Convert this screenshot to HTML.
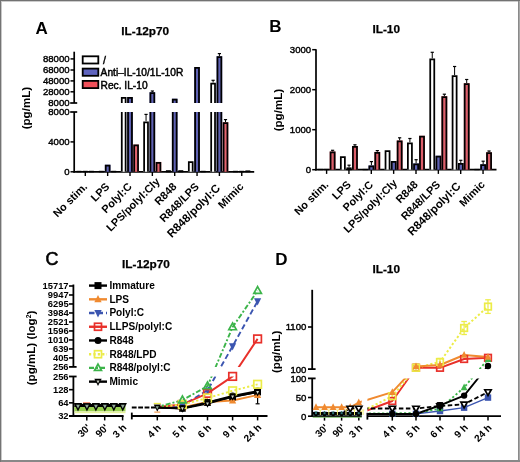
<!DOCTYPE html>
<html><head><meta charset="utf-8"><style>
html,body{margin:0;padding:0;background:#fff;}
body{width:520px;height:462px;overflow:hidden;}
svg{display:block;font-family:"Liberation Sans", sans-serif;filter:blur(0.3px);}
</style></head><body>
<svg width="520" height="462" viewBox="0 0 520 462">
<rect x="0" y="0" width="520" height="462" fill="#fff"/>
<line x1="74.2" y1="51.7" x2="74.2" y2="103.0" stroke="#000" stroke-width="1.7"/>
<line x1="70.2" y1="103.0" x2="77.2" y2="103.0" stroke="#000" stroke-width="1.7"/>
<line x1="74.2" y1="112.0" x2="74.2" y2="172.60000000000002" stroke="#000" stroke-width="1.7"/>
<line x1="70.2" y1="112.0" x2="77.2" y2="112.0" stroke="#000" stroke-width="1.7"/>
<line x1="70.5" y1="58.9" x2="74.2" y2="58.9" stroke="#000" stroke-width="1.5"/>
<text x="69.6" y="62.3" font-size="9.6" text-anchor="end" stroke="#000" stroke-width="0.4">88000</text>
<line x1="70.5" y1="70.0" x2="74.2" y2="70.0" stroke="#000" stroke-width="1.5"/>
<text x="69.6" y="73.4" font-size="9.6" text-anchor="end" stroke="#000" stroke-width="0.4">68000</text>
<line x1="70.5" y1="80.9" x2="74.2" y2="80.9" stroke="#000" stroke-width="1.5"/>
<text x="69.6" y="84.30000000000001" font-size="9.6" text-anchor="end" stroke="#000" stroke-width="0.4">48000</text>
<line x1="70.5" y1="91.8" x2="74.2" y2="91.8" stroke="#000" stroke-width="1.5"/>
<text x="69.6" y="95.2" font-size="9.6" text-anchor="end" stroke="#000" stroke-width="0.4">28000</text>
<text x="69.6" y="106.4" font-size="9.6" text-anchor="end" stroke="#000" stroke-width="0.4">8000</text>
<text x="69.6" y="115.4" font-size="9.6" text-anchor="end" stroke="#000" stroke-width="0.4">8000</text>
<line x1="70.5" y1="141.9" x2="74.2" y2="141.9" stroke="#000" stroke-width="1.5"/>
<text x="69.6" y="145.3" font-size="9.6" text-anchor="end" stroke="#000" stroke-width="0.4">4000</text>
<line x1="70.5" y1="171.8" x2="74.2" y2="171.8" stroke="#000" stroke-width="1.5"/>
<text x="69.6" y="175.20000000000002" font-size="9.6" text-anchor="end" stroke="#000" stroke-width="0.4">0</text>
<line x1="73.4" y1="171.8" x2="254.2" y2="171.8" stroke="#000" stroke-width="1.7"/>
<line x1="85.3" y1="171.8" x2="85.3" y2="176.0" stroke="#000" stroke-width="1.4"/>
<line x1="107.65" y1="171.8" x2="107.65" y2="176.0" stroke="#000" stroke-width="1.4"/>
<line x1="130.0" y1="171.8" x2="130.0" y2="176.0" stroke="#000" stroke-width="1.4"/>
<line x1="152.35000000000002" y1="171.8" x2="152.35000000000002" y2="176.0" stroke="#000" stroke-width="1.4"/>
<line x1="174.7" y1="171.8" x2="174.7" y2="176.0" stroke="#000" stroke-width="1.4"/>
<line x1="197.05" y1="171.8" x2="197.05" y2="176.0" stroke="#000" stroke-width="1.4"/>
<line x1="219.40000000000003" y1="171.8" x2="219.40000000000003" y2="176.0" stroke="#000" stroke-width="1.4"/>
<line x1="241.75" y1="171.8" x2="241.75" y2="176.0" stroke="#000" stroke-width="1.4"/>
<rect x="76.50" y="170.80" width="5.00" height="1.50" fill="#000"/>
<rect x="82.80" y="170.80" width="5.00" height="1.50" fill="#000"/>
<rect x="88.90" y="170.80" width="5.00" height="1.50" fill="#000"/>
<rect x="98.85" y="170.80" width="5.00" height="1.50" fill="#000"/>
<rect x="104.85" y="164.70" width="5.60" height="7.10" fill="#5f62b4"/>
<path d="M105.73,171.80 V165.57 H109.58 V171.80" fill="none" stroke="#000" stroke-width="1.75"/>
<rect x="111.25" y="170.80" width="5.00" height="1.50" fill="#000"/>
<rect x="120.90" y="112.00" width="5.60" height="59.80" fill="#fff"/>
<path d="M121.78,171.80 V112.00 M125.62,112.00 V171.80" fill="none" stroke="#000" stroke-width="1.75"/>
<rect x="120.90" y="97.00" width="5.60" height="6.00" fill="#fff"/>
<path d="M121.78,103.00 V97.88 H125.62 V103.00" fill="none" stroke="#000" stroke-width="1.75"/>
<rect x="127.20" y="112.00" width="5.60" height="59.80" fill="#5f62b4"/>
<path d="M128.07,171.80 V112.00 M131.93,112.00 V171.80" fill="none" stroke="#000" stroke-width="1.75"/>
<rect x="127.20" y="97.00" width="5.60" height="6.00" fill="#5f62b4"/>
<path d="M128.07,103.00 V97.88 H131.93 V103.00" fill="none" stroke="#000" stroke-width="1.75"/>
<rect x="133.30" y="144.60" width="5.60" height="27.20" fill="#e4646e"/>
<path d="M134.17,171.80 V145.47 H138.03 V171.80" fill="none" stroke="#000" stroke-width="1.75"/>
<line x1="146.05" y1="114.4" x2="146.05" y2="121.4" stroke="#000" stroke-width="1.0"/>
<line x1="144.45000000000002" y1="114.4" x2="147.65" y2="114.4" stroke="#000" stroke-width="1.2"/>
<rect x="143.25" y="121.40" width="5.60" height="50.40" fill="#fff"/>
<path d="M144.12,171.80 V122.28 H147.98 V171.80" fill="none" stroke="#000" stroke-width="1.75"/>
<line x1="152.35000000000002" y1="91.0" x2="152.35000000000002" y2="92.2" stroke="#000" stroke-width="1.0"/>
<line x1="150.75000000000003" y1="91.0" x2="153.95000000000002" y2="91.0" stroke="#000" stroke-width="1.2"/>
<rect x="149.55" y="112.00" width="5.60" height="59.80" fill="#5f62b4"/>
<path d="M150.43,171.80 V112.00 M154.28,112.00 V171.80" fill="none" stroke="#000" stroke-width="1.75"/>
<rect x="149.55" y="92.20" width="5.60" height="10.80" fill="#5f62b4"/>
<path d="M150.43,103.00 V93.08 H154.28 V103.00" fill="none" stroke="#000" stroke-width="1.75"/>
<rect x="155.65" y="161.90" width="5.60" height="9.90" fill="#e4646e"/>
<path d="M156.53,171.80 V162.78 H160.38 V171.80" fill="none" stroke="#000" stroke-width="1.75"/>
<rect x="165.90" y="170.20" width="5.00" height="2.10" fill="#000"/>
<rect x="171.90" y="112.00" width="5.60" height="59.80" fill="#5f62b4"/>
<path d="M172.77,171.80 V112.00 M176.62,112.00 V171.80" fill="none" stroke="#000" stroke-width="1.75"/>
<rect x="171.90" y="98.70" width="5.60" height="4.30" fill="#5f62b4"/>
<path d="M172.77,103.00 V99.58 H176.62 V103.00" fill="none" stroke="#000" stroke-width="1.75"/>
<rect x="178.30" y="170.20" width="5.00" height="2.10" fill="#000"/>
<rect x="187.95" y="161.30" width="5.60" height="10.50" fill="#fff"/>
<path d="M188.82,171.80 V162.18 H192.68 V171.80" fill="none" stroke="#000" stroke-width="1.75"/>
<rect x="194.25" y="112.00" width="5.60" height="59.80" fill="#5f62b4"/>
<path d="M195.12,171.80 V112.00 M198.98,112.00 V171.80" fill="none" stroke="#000" stroke-width="1.75"/>
<rect x="194.25" y="67.00" width="5.60" height="36.00" fill="#5f62b4"/>
<path d="M195.12,103.00 V67.88 H198.98 V103.00" fill="none" stroke="#000" stroke-width="1.75"/>
<rect x="200.65" y="170.80" width="5.00" height="1.50" fill="#000"/>
<line x1="213.10000000000002" y1="80.3" x2="213.10000000000002" y2="82.7" stroke="#000" stroke-width="1.0"/>
<line x1="211.50000000000003" y1="80.3" x2="214.70000000000002" y2="80.3" stroke="#000" stroke-width="1.2"/>
<rect x="210.30" y="112.00" width="5.60" height="59.80" fill="#fff"/>
<path d="M211.18,171.80 V112.00 M215.03,112.00 V171.80" fill="none" stroke="#000" stroke-width="1.75"/>
<rect x="210.30" y="82.70" width="5.60" height="20.30" fill="#fff"/>
<path d="M211.18,103.00 V83.58 H215.03 V103.00" fill="none" stroke="#000" stroke-width="1.75"/>
<line x1="219.40000000000003" y1="53.6" x2="219.40000000000003" y2="56.2" stroke="#000" stroke-width="1.0"/>
<line x1="217.80000000000004" y1="53.6" x2="221.00000000000003" y2="53.6" stroke="#000" stroke-width="1.2"/>
<rect x="216.60" y="112.00" width="5.60" height="59.80" fill="#5f62b4"/>
<path d="M217.48,171.80 V112.00 M221.33,112.00 V171.80" fill="none" stroke="#000" stroke-width="1.75"/>
<rect x="216.60" y="56.20" width="5.60" height="46.80" fill="#5f62b4"/>
<path d="M217.48,103.00 V57.08 H221.33 V103.00" fill="none" stroke="#000" stroke-width="1.75"/>
<line x1="225.50000000000003" y1="119.6" x2="225.50000000000003" y2="122.2" stroke="#000" stroke-width="1.0"/>
<line x1="223.90000000000003" y1="119.6" x2="227.10000000000002" y2="119.6" stroke="#000" stroke-width="1.2"/>
<rect x="222.70" y="122.20" width="5.60" height="49.60" fill="#e4646e"/>
<path d="M223.58,171.80 V123.08 H227.43 V171.80" fill="none" stroke="#000" stroke-width="1.75"/>
<rect x="232.95" y="170.80" width="5.00" height="1.50" fill="#000"/>
<rect x="239.25" y="170.80" width="5.00" height="1.50" fill="#000"/>
<rect x="245.35" y="170.40" width="5.00" height="1.90" fill="#000"/>
<rect x="82.7" y="56.3" width="15.6" height="7.2" fill="#fff" stroke="#000" stroke-width="1.8"/>
<text x="103.0" y="64.0" font-size="10.6" text-anchor="start" stroke="#000" stroke-width="0.45">/</text>
<rect x="82.7" y="68.60000000000001" width="15.6" height="7.2" fill="#5f64be" stroke="#000" stroke-width="1.8"/>
<text x="100.6" y="76.3" font-size="10.2" text-anchor="start" stroke="#000" stroke-width="0.45">Anti–IL-10/1L-10R</text>
<rect x="82.7" y="80.9" width="15.6" height="7.2" fill="#f0505a" stroke="#000" stroke-width="1.8"/>
<text x="100.6" y="88.6" font-size="10.2" text-anchor="start" stroke="#000" stroke-width="0.45">Rec. IL-10</text>
<text x="145.2" y="35.0" font-size="11.8" font-weight="bold" text-anchor="middle" stroke="#000" stroke-width="0.25">IL-12p70</text>
<text x="35.6" y="33.8" font-size="17" font-weight="bold" text-anchor="start">A</text>
<text x="29.8" y="108.1" font-size="11.6" font-weight="bold" text-anchor="middle" transform="rotate(-90 29.8 108.1)">(pg/mL)</text>
<text x="87.89999999999999" y="187.3" font-size="10.9" font-weight="bold" text-anchor="end" transform="rotate(-45 87.89999999999999 187.3)">No stim.</text>
<text x="110.25" y="187.3" font-size="10.9" font-weight="bold" text-anchor="end" transform="rotate(-45 110.25 187.3)">LPS</text>
<text x="132.6" y="187.3" font-size="10.9" font-weight="bold" text-anchor="end" transform="rotate(-45 132.6 187.3)">Polyl:C</text>
<text x="160.45000000000002" y="182.3" font-size="10.9" font-weight="bold" text-anchor="end" transform="rotate(-45 160.45000000000002 182.3)">LPS/polyl:Cly</text>
<text x="177.29999999999998" y="187.3" font-size="10.9" font-weight="bold" text-anchor="end" transform="rotate(-45 177.29999999999998 187.3)">R848</text>
<text x="199.65" y="187.3" font-size="10.9" font-weight="bold" text-anchor="end" transform="rotate(-45 199.65 187.3)">R848/LPS</text>
<text x="221.00000000000003" y="188.9" font-size="11.5" font-weight="bold" text-anchor="end" transform="rotate(-45 221.00000000000003 188.9)">R848/polyl:C</text>
<text x="244.35" y="187.3" font-size="10.9" font-weight="bold" text-anchor="end" transform="rotate(-45 244.35 187.3)">Mimic</text>
<line x1="316.0" y1="49.3" x2="316.0" y2="170.5" stroke="#000" stroke-width="1.7"/>
<line x1="312.2" y1="49.69999999999999" x2="316.0" y2="49.69999999999999" stroke="#000" stroke-width="1.5"/>
<text x="311.2" y="53.09999999999999" font-size="9.6" text-anchor="end" stroke="#000" stroke-width="0.4">3000</text>
<line x1="312.2" y1="89.69999999999999" x2="316.0" y2="89.69999999999999" stroke="#000" stroke-width="1.5"/>
<text x="311.2" y="93.1" font-size="9.6" text-anchor="end" stroke="#000" stroke-width="0.4">2000</text>
<line x1="312.2" y1="129.7" x2="316.0" y2="129.7" stroke="#000" stroke-width="1.5"/>
<text x="311.2" y="133.1" font-size="9.6" text-anchor="end" stroke="#000" stroke-width="0.4">1000</text>
<line x1="312.2" y1="169.7" x2="316.0" y2="169.7" stroke="#000" stroke-width="1.5"/>
<text x="311.2" y="173.1" font-size="9.6" text-anchor="end" stroke="#000" stroke-width="0.4">0</text>
<line x1="315.2" y1="169.7" x2="496.5" y2="169.7" stroke="#000" stroke-width="1.7"/>
<line x1="326.6" y1="169.7" x2="326.6" y2="173.89999999999998" stroke="#000" stroke-width="1.4"/>
<line x1="348.95000000000005" y1="169.7" x2="348.95000000000005" y2="173.89999999999998" stroke="#000" stroke-width="1.4"/>
<line x1="371.3" y1="169.7" x2="371.3" y2="173.89999999999998" stroke="#000" stroke-width="1.4"/>
<line x1="393.65000000000003" y1="169.7" x2="393.65000000000003" y2="173.89999999999998" stroke="#000" stroke-width="1.4"/>
<line x1="416.0" y1="169.7" x2="416.0" y2="173.89999999999998" stroke="#000" stroke-width="1.4"/>
<line x1="438.35" y1="169.7" x2="438.35" y2="173.89999999999998" stroke="#000" stroke-width="1.4"/>
<line x1="460.70000000000005" y1="169.7" x2="460.70000000000005" y2="173.89999999999998" stroke="#000" stroke-width="1.4"/>
<line x1="483.05000000000007" y1="169.7" x2="483.05000000000007" y2="173.89999999999998" stroke="#000" stroke-width="1.4"/>
<rect x="317.90" y="168.90" width="5.20" height="1.30" fill="#000"/>
<rect x="324.10" y="168.90" width="5.20" height="1.30" fill="#000"/>
<line x1="332.6" y1="150.3" x2="332.6" y2="151.5" stroke="#000" stroke-width="1.0"/>
<line x1="331.0" y1="150.3" x2="334.20000000000005" y2="150.3" stroke="#000" stroke-width="1.2"/>
<rect x="329.70" y="151.50" width="5.80" height="18.20" fill="#dc5e6a"/>
<path d="M330.58,169.70 V152.38 H334.62 V169.70" fill="none" stroke="#000" stroke-width="1.75"/>
<rect x="339.95" y="156.20" width="5.80" height="13.50" fill="#fff"/>
<path d="M340.83,169.70 V157.07 H344.88 V169.70" fill="none" stroke="#000" stroke-width="1.75"/>
<line x1="349.05000000000007" y1="165.2" x2="349.05000000000007" y2="167.4" stroke="#000" stroke-width="1.0"/>
<line x1="347.45000000000005" y1="165.2" x2="350.6500000000001" y2="165.2" stroke="#000" stroke-width="1.2"/>
<rect x="346.45" y="167.40" width="5.20" height="2.80" fill="#000"/>
<line x1="354.95000000000005" y1="144.8" x2="354.95000000000005" y2="146.0" stroke="#000" stroke-width="1.0"/>
<line x1="353.35" y1="144.8" x2="356.55000000000007" y2="144.8" stroke="#000" stroke-width="1.2"/>
<rect x="352.05" y="146.00" width="5.80" height="23.70" fill="#dc5e6a"/>
<path d="M352.93,169.70 V146.88 H356.98 V169.70" fill="none" stroke="#000" stroke-width="1.75"/>
<rect x="362.60" y="168.90" width="5.20" height="1.30" fill="#000"/>
<line x1="371.40000000000003" y1="161.6" x2="371.40000000000003" y2="165.4" stroke="#000" stroke-width="1.0"/>
<line x1="369.8" y1="161.6" x2="373.00000000000006" y2="161.6" stroke="#000" stroke-width="1.2"/>
<rect x="368.50" y="165.40" width="5.80" height="4.30" fill="#5f62b4"/>
<path d="M369.38,169.70 V166.28 H373.43 V169.70" fill="none" stroke="#000" stroke-width="1.75"/>
<line x1="377.3" y1="150.6" x2="377.3" y2="151.9" stroke="#000" stroke-width="1.0"/>
<line x1="375.7" y1="150.6" x2="378.90000000000003" y2="150.6" stroke="#000" stroke-width="1.2"/>
<rect x="374.40" y="151.90" width="5.80" height="17.80" fill="#dc5e6a"/>
<path d="M375.28,169.70 V152.78 H379.32 V169.70" fill="none" stroke="#000" stroke-width="1.75"/>
<rect x="384.65" y="150.30" width="5.80" height="19.40" fill="#fff"/>
<path d="M385.53,169.70 V151.18 H389.57 V169.70" fill="none" stroke="#000" stroke-width="1.75"/>
<rect x="390.85" y="161.10" width="5.80" height="8.60" fill="#5f62b4"/>
<path d="M391.73,169.70 V161.97 H395.78 V169.70" fill="none" stroke="#000" stroke-width="1.75"/>
<line x1="399.65000000000003" y1="137.8" x2="399.65000000000003" y2="140.5" stroke="#000" stroke-width="1.0"/>
<line x1="398.05" y1="137.8" x2="401.25000000000006" y2="137.8" stroke="#000" stroke-width="1.2"/>
<rect x="396.75" y="140.50" width="5.80" height="29.20" fill="#dc5e6a"/>
<path d="M397.63,169.70 V141.38 H401.68 V169.70" fill="none" stroke="#000" stroke-width="1.75"/>
<line x1="409.9" y1="138.5" x2="409.9" y2="142.5" stroke="#000" stroke-width="1.0"/>
<line x1="408.29999999999995" y1="138.5" x2="411.5" y2="138.5" stroke="#000" stroke-width="1.2"/>
<rect x="407.00" y="142.50" width="5.80" height="27.20" fill="#fff"/>
<path d="M407.88,169.70 V143.38 H411.92 V169.70" fill="none" stroke="#000" stroke-width="1.75"/>
<line x1="416.1" y1="159.7" x2="416.1" y2="163.4" stroke="#000" stroke-width="1.0"/>
<line x1="414.5" y1="159.7" x2="417.70000000000005" y2="159.7" stroke="#000" stroke-width="1.2"/>
<rect x="413.20" y="163.40" width="5.80" height="6.30" fill="#5f62b4"/>
<path d="M414.08,169.70 V164.28 H418.12 V169.70" fill="none" stroke="#000" stroke-width="1.75"/>
<rect x="419.10" y="135.80" width="5.80" height="33.90" fill="#dc5e6a"/>
<path d="M419.98,169.70 V136.68 H424.02 V169.70" fill="none" stroke="#000" stroke-width="1.75"/>
<line x1="432.25" y1="52.3" x2="432.25" y2="58.6" stroke="#000" stroke-width="1.0"/>
<line x1="430.65" y1="52.3" x2="433.85" y2="52.3" stroke="#000" stroke-width="1.2"/>
<rect x="429.35" y="58.60" width="5.80" height="111.10" fill="#fff"/>
<path d="M430.23,169.70 V59.48 H434.27 V169.70" fill="none" stroke="#000" stroke-width="1.75"/>
<rect x="435.55" y="155.70" width="5.80" height="14.00" fill="#5f62b4"/>
<path d="M436.43,169.70 V156.57 H440.48 V169.70" fill="none" stroke="#000" stroke-width="1.75"/>
<line x1="444.35" y1="94.2" x2="444.35" y2="96.2" stroke="#000" stroke-width="1.0"/>
<line x1="442.75" y1="94.2" x2="445.95000000000005" y2="94.2" stroke="#000" stroke-width="1.2"/>
<rect x="441.45" y="96.20" width="5.80" height="73.50" fill="#dc5e6a"/>
<path d="M442.33,169.70 V97.08 H446.38 V169.70" fill="none" stroke="#000" stroke-width="1.75"/>
<line x1="454.6" y1="66.5" x2="454.6" y2="75.3" stroke="#000" stroke-width="1.0"/>
<line x1="453.0" y1="66.5" x2="456.20000000000005" y2="66.5" stroke="#000" stroke-width="1.2"/>
<rect x="451.70" y="75.30" width="5.80" height="94.40" fill="#fff"/>
<path d="M452.58,169.70 V76.17 H456.62 V169.70" fill="none" stroke="#000" stroke-width="1.75"/>
<line x1="460.80000000000007" y1="160.3" x2="460.80000000000007" y2="163.1" stroke="#000" stroke-width="1.0"/>
<line x1="459.20000000000005" y1="160.3" x2="462.4000000000001" y2="160.3" stroke="#000" stroke-width="1.2"/>
<rect x="457.90" y="163.10" width="5.80" height="6.60" fill="#5f62b4"/>
<path d="M458.78,169.70 V163.97 H462.83 V169.70" fill="none" stroke="#000" stroke-width="1.75"/>
<line x1="466.70000000000005" y1="79.5" x2="466.70000000000005" y2="83.2" stroke="#000" stroke-width="1.0"/>
<line x1="465.1" y1="79.5" x2="468.30000000000007" y2="79.5" stroke="#000" stroke-width="1.2"/>
<rect x="463.80" y="83.20" width="5.80" height="86.50" fill="#dc5e6a"/>
<path d="M464.68,169.70 V84.08 H468.73 V169.70" fill="none" stroke="#000" stroke-width="1.75"/>
<rect x="474.35" y="168.90" width="5.20" height="1.30" fill="#000"/>
<line x1="483.1500000000001" y1="161.2" x2="483.1500000000001" y2="164.3" stroke="#000" stroke-width="1.0"/>
<line x1="481.55000000000007" y1="161.2" x2="484.7500000000001" y2="161.2" stroke="#000" stroke-width="1.2"/>
<rect x="480.25" y="164.30" width="5.80" height="5.40" fill="#5f62b4"/>
<path d="M481.13,169.70 V165.18 H485.18 V169.70" fill="none" stroke="#000" stroke-width="1.75"/>
<line x1="489.05000000000007" y1="151.0" x2="489.05000000000007" y2="152.3" stroke="#000" stroke-width="1.0"/>
<line x1="487.45000000000005" y1="151.0" x2="490.6500000000001" y2="151.0" stroke="#000" stroke-width="1.2"/>
<rect x="486.15" y="152.30" width="5.80" height="17.40" fill="#dc5e6a"/>
<path d="M487.03,169.70 V153.18 H491.08 V169.70" fill="none" stroke="#000" stroke-width="1.75"/>
<text x="386.2" y="33.2" font-size="11.8" font-weight="bold" text-anchor="middle" stroke="#000" stroke-width="0.25">IL-10</text>
<text x="269.2" y="31.6" font-size="17" font-weight="bold" text-anchor="start">B</text>
<text x="282.0" y="110.1" font-size="11.6" font-weight="bold" text-anchor="middle" transform="rotate(-90 282.0 110.1)">(pg/mL)</text>
<text x="329.20000000000005" y="185.3" font-size="10.9" font-weight="bold" text-anchor="end" transform="rotate(-45 329.20000000000005 185.3)">No stim.</text>
<text x="351.55000000000007" y="185.3" font-size="10.9" font-weight="bold" text-anchor="end" transform="rotate(-45 351.55000000000007 185.3)">LPS</text>
<text x="373.90000000000003" y="185.3" font-size="10.9" font-weight="bold" text-anchor="end" transform="rotate(-45 373.90000000000003 185.3)">Polyl:C</text>
<text x="397.75000000000006" y="183.8" font-size="10.9" font-weight="bold" text-anchor="end" transform="rotate(-45 397.75000000000006 183.8)">LPS/polyl:Cly</text>
<text x="418.6" y="185.3" font-size="10.9" font-weight="bold" text-anchor="end" transform="rotate(-45 418.6 185.3)">R848</text>
<text x="440.95000000000005" y="185.3" font-size="10.9" font-weight="bold" text-anchor="end" transform="rotate(-45 440.95000000000005 185.3)">R848/LPS</text>
<text x="461.50000000000006" y="186.9" font-size="11.5" font-weight="bold" text-anchor="end" transform="rotate(-45 461.50000000000006 186.9)">R848/polyl:C</text>
<text x="485.6500000000001" y="185.3" font-size="10.9" font-weight="bold" text-anchor="end" transform="rotate(-45 485.6500000000001 185.3)">Mimic</text>
<line x1="73.4" y1="284.5" x2="73.4" y2="366.9" stroke="#000" stroke-width="1.8"/>
<line x1="69.0" y1="366.9" x2="76.6" y2="366.9" stroke="#000" stroke-width="1.8"/>
<line x1="73.4" y1="376.5" x2="73.4" y2="416.0" stroke="#000" stroke-width="1.8"/>
<line x1="69.0" y1="376.5" x2="76.6" y2="376.5" stroke="#000" stroke-width="1.8"/>
<line x1="69.0" y1="286.0" x2="73.4" y2="286.0" stroke="#000" stroke-width="1.6"/>
<text x="68.6" y="289.3" font-size="9.4" font-weight="bold" text-anchor="end">15717</text>
<line x1="69.0" y1="294.99" x2="73.4" y2="294.99" stroke="#000" stroke-width="1.6"/>
<text x="68.6" y="298.29" font-size="9.4" font-weight="bold" text-anchor="end">9947</text>
<line x1="69.0" y1="303.98" x2="73.4" y2="303.98" stroke="#000" stroke-width="1.6"/>
<text x="68.6" y="307.28000000000003" font-size="9.4" font-weight="bold" text-anchor="end">6295</text>
<line x1="69.0" y1="312.97" x2="73.4" y2="312.97" stroke="#000" stroke-width="1.6"/>
<text x="68.6" y="316.27000000000004" font-size="9.4" font-weight="bold" text-anchor="end">3984</text>
<line x1="69.0" y1="321.96" x2="73.4" y2="321.96" stroke="#000" stroke-width="1.6"/>
<text x="68.6" y="325.26" font-size="9.4" font-weight="bold" text-anchor="end">2521</text>
<line x1="69.0" y1="330.95" x2="73.4" y2="330.95" stroke="#000" stroke-width="1.6"/>
<text x="68.6" y="334.25" font-size="9.4" font-weight="bold" text-anchor="end">1596</text>
<line x1="69.0" y1="339.94" x2="73.4" y2="339.94" stroke="#000" stroke-width="1.6"/>
<text x="68.6" y="343.24" font-size="9.4" font-weight="bold" text-anchor="end">1010</text>
<line x1="69.0" y1="348.93" x2="73.4" y2="348.93" stroke="#000" stroke-width="1.6"/>
<text x="68.6" y="352.23" font-size="9.4" font-weight="bold" text-anchor="end">639</text>
<line x1="69.0" y1="357.92" x2="73.4" y2="357.92" stroke="#000" stroke-width="1.6"/>
<text x="68.6" y="361.22" font-size="9.4" font-weight="bold" text-anchor="end">405</text>
<text x="68.6" y="370.21" font-size="9.4" font-weight="bold" text-anchor="end">256</text>
<text x="68.6" y="379.8" font-size="9.4" font-weight="bold" text-anchor="end">256</text>
<line x1="69.0" y1="389.67" x2="73.4" y2="389.67" stroke="#000" stroke-width="1.6"/>
<text x="68.6" y="392.97" font-size="9.4" font-weight="bold" text-anchor="end">128</text>
<line x1="69.0" y1="402.84" x2="73.4" y2="402.84" stroke="#000" stroke-width="1.6"/>
<text x="68.6" y="406.14" font-size="9.4" font-weight="bold" text-anchor="end">64</text>
<line x1="69.0" y1="416.01" x2="73.4" y2="416.01" stroke="#000" stroke-width="1.6"/>
<text x="68.6" y="419.31" font-size="9.4" font-weight="bold" text-anchor="end">32</text>
<line x1="69.0" y1="416.0" x2="123.6" y2="416.0" stroke="#000" stroke-width="1.8"/>
<line x1="131.8" y1="416.0" x2="267.5" y2="416.0" stroke="#000" stroke-width="1.8"/>
<line x1="131.8" y1="412.6" x2="131.8" y2="419.4" stroke="#000" stroke-width="1.8"/>
<line x1="86.8" y1="416.0" x2="86.8" y2="420.4" stroke="#000" stroke-width="1.5"/>
<line x1="104.7" y1="416.0" x2="104.7" y2="420.4" stroke="#000" stroke-width="1.5"/>
<line x1="122.6" y1="416.0" x2="122.6" y2="420.4" stroke="#000" stroke-width="1.5"/>
<line x1="157.3" y1="416.0" x2="157.3" y2="420.4" stroke="#000" stroke-width="1.5"/>
<line x1="182.4" y1="416.0" x2="182.4" y2="420.4" stroke="#000" stroke-width="1.5"/>
<line x1="207.5" y1="416.0" x2="207.5" y2="420.4" stroke="#000" stroke-width="1.5"/>
<line x1="232.6" y1="416.0" x2="232.6" y2="420.4" stroke="#000" stroke-width="1.5"/>
<line x1="257.6" y1="416.0" x2="257.6" y2="420.4" stroke="#000" stroke-width="1.5"/>
<text x="91.2" y="428.3" font-size="10.0" font-weight="bold" text-anchor="end" transform="rotate(-45 91.2 428.3)">30'</text>
<text x="109.10000000000001" y="428.3" font-size="10.0" font-weight="bold" text-anchor="end" transform="rotate(-45 109.10000000000001 428.3)">90'</text>
<text x="127.0" y="428.3" font-size="10.0" font-weight="bold" text-anchor="end" transform="rotate(-45 127.0 428.3)">3 h</text>
<text x="161.70000000000002" y="428.3" font-size="10.0" font-weight="bold" text-anchor="end" transform="rotate(-45 161.70000000000002 428.3)">4 h</text>
<text x="186.8" y="428.3" font-size="10.0" font-weight="bold" text-anchor="end" transform="rotate(-45 186.8 428.3)">5 h</text>
<text x="211.9" y="428.3" font-size="10.0" font-weight="bold" text-anchor="end" transform="rotate(-45 211.9 428.3)">6 h</text>
<text x="237.0" y="428.3" font-size="10.0" font-weight="bold" text-anchor="end" transform="rotate(-45 237.0 428.3)">9 h</text>
<text x="262.0" y="428.3" font-size="10.0" font-weight="bold" text-anchor="end" transform="rotate(-45 262.0 428.3)">24 h</text>
<clipPath id="clipC"><rect x="73.4" y="270" width="50.19999999999999" height="96.89999999999998"/><rect x="73.4" y="376.5" width="50.19999999999999" height="43.5"/><rect x="131.8" y="270" width="136.2" height="96.89999999999998"/><rect x="131.8" y="376.5" width="136.2" height="43.5"/></clipPath>
<clipPath id="clipC2"><rect x="157.3" y="270" width="110.69999999999999" height="96.89999999999998"/><rect x="157.3" y="376.5" width="110.69999999999999" height="43.5"/></clipPath>
<g clip-path="url(#clipC2)">
<polyline points="78.00,407.30 86.95,407.30 95.90,407.30 104.85,407.30 113.80,407.30 122.75,407.30 157.30,407.50 182.40,408.30 207.50,402.50 232.60,397.00 257.60,392.00" fill="none" stroke="#000" stroke-width="1.9" stroke-linejoin="round"/>
<polyline points="78.00,407.30 86.95,407.30 95.90,407.30 104.85,407.30 113.80,407.30 122.75,407.30 157.30,407.50 182.40,407.50 207.50,402.00 232.60,400.50 257.60,395.00" fill="none" stroke="#f08a30" stroke-width="1.9" stroke-linejoin="round"/>
<polyline points="78.00,407.30 86.95,407.30 95.90,407.30 104.85,407.30 113.80,407.30 122.75,407.30 157.30,407.50 182.40,405.50 207.50,390.40 232.60,346.20 257.60,301.20" fill="none" stroke="#3b55b0" stroke-width="1.9" stroke-dasharray="5.5 3" stroke-linejoin="round"/>
<polyline points="78.00,407.30 86.95,407.30 95.90,407.30 104.85,407.30 113.80,407.30 122.75,407.30 157.30,407.00 182.40,404.50 207.50,393.40 232.60,376.40 257.60,338.90" fill="none" stroke="#e8302a" stroke-width="1.9" stroke-linejoin="round"/>
<polyline points="78.00,407.30 86.95,407.30 95.90,407.30 104.85,407.30 113.80,407.30 122.75,407.30 157.30,407.50 182.40,408.30 207.50,402.50 232.60,396.00 257.60,391.00" fill="none" stroke="#000" stroke-width="1.9" stroke-linejoin="round"/>
<polyline points="78.00,407.30 86.95,407.30 95.90,407.30 104.85,407.30 113.80,407.30 122.75,407.30 157.30,407.00 182.40,404.50 207.50,398.00 232.60,390.80 257.60,384.30" fill="none" stroke="#ecec48" stroke-width="1.9" stroke-dasharray="2.2 2.2" stroke-linejoin="round"/>
<polyline points="78.00,407.30 86.95,407.30 95.90,407.30 104.85,407.30 113.80,407.30 122.75,407.30 157.30,407.00 182.40,400.20 207.50,386.10 232.60,327.10 257.60,290.80" fill="none" stroke="#3cb44a" stroke-width="1.9" stroke-dasharray="5 2 2 2" stroke-linejoin="round"/>
<polyline points="78.00,407.30 86.95,407.30 95.90,407.30 104.85,407.30 113.80,407.30 122.75,407.30 157.30,407.50 182.40,408.50 207.50,403.60 232.60,396.60 257.60,392.30" fill="none" stroke="#000" stroke-width="1.9" stroke-linejoin="round"/>
</g>
<line x1="131.8" y1="407.4" x2="157.3" y2="407.4" stroke="#000" stroke-width="2.0" stroke-dasharray="4.8 1.6"/>
<line x1="257.6" y1="392.0" x2="257.6" y2="403.8" stroke="#000" stroke-width="1.2"/>
<line x1="255.6" y1="403.8" x2="259.6" y2="403.8" stroke="#000" stroke-width="1.2"/>
<rect x="74.4" y="406.0" width="51.10" height="5.4" fill="#98d050"/>
<rect x="74.4" y="411.6" width="51.10" height="1.6" fill="#e6f29a"/>
<line x1="74.4" y1="403.6" x2="125.0" y2="403.6" stroke="#e8e838" stroke-width="1.2" stroke-dasharray="2 2.5"/>
<line x1="74.4" y1="405.5" x2="125.0" y2="405.5" stroke="#000" stroke-width="2.8"/>
<polygon points="78.00,411.40 82.20,403.00 73.80,403.00" fill="#000"/>
<polygon points="78.00,408.55 79.89,404.77 76.11,404.77" fill="#90a898"/>
<polygon points="86.95,411.40 91.15,403.00 82.75,403.00" fill="#000"/>
<polygon points="86.95,408.55 88.84,404.77 85.06,404.77" fill="#90a898"/>
<polygon points="95.90,411.40 100.10,403.00 91.70,403.00" fill="#000"/>
<polygon points="95.90,408.55 97.79,404.77 94.01,404.77" fill="#90a898"/>
<polygon points="104.85,411.40 109.05,403.00 100.65,403.00" fill="#000"/>
<polygon points="104.85,408.55 106.74,404.77 102.96,404.77" fill="#90a898"/>
<polygon points="113.80,411.40 118.00,403.00 109.60,403.00" fill="#000"/>
<polygon points="113.80,408.55 115.69,404.77 111.91,404.77" fill="#90a898"/>
<polygon points="122.75,411.40 126.95,403.00 118.55,403.00" fill="#000"/>
<polygon points="122.75,408.55 124.64,404.77 120.86,404.77" fill="#90a898"/>
<line x1="83.0" y1="402.6" x2="90.0" y2="402.6" stroke="#f08060" stroke-width="0.9"/>
<rect x="179.00" y="404.90" width="6.80" height="6.80" fill="#000" stroke="none"/>
<rect x="204.10" y="399.10" width="6.80" height="6.80" fill="#000" stroke="none"/>
<rect x="229.20" y="393.60" width="6.80" height="6.80" fill="#000" stroke="none"/>
<rect x="254.20" y="388.60" width="6.80" height="6.80" fill="#000" stroke="none"/>
<polygon points="182.40,403.25 185.97,410.39 178.83,410.39" fill="#f08a30"/>
<polygon points="207.50,397.75 211.07,404.89 203.93,404.89" fill="#f08a30"/>
<polygon points="232.60,396.25 236.17,403.39 229.03,403.39" fill="#f08a30"/>
<polygon points="257.60,390.75 261.17,397.89 254.03,397.89" fill="#f08a30"/>
<polygon points="182.40,409.75 185.97,402.61 178.83,402.61" fill="#3b55b0"/>
<polygon points="207.50,394.65 211.07,387.51 203.93,387.51" fill="#3b55b0"/>
<polygon points="232.60,350.45 236.17,343.31 229.03,343.31" fill="#3b55b0"/>
<polygon points="257.60,305.45 261.17,298.31 254.03,298.31" fill="#3b55b0"/>
<rect x="178.60" y="400.70" width="7.60" height="7.60" fill="none" stroke="#e8302a" stroke-width="1.7"/>
<rect x="203.70" y="389.60" width="7.60" height="7.60" fill="none" stroke="#e8302a" stroke-width="1.7"/>
<rect x="228.80" y="372.60" width="7.60" height="7.60" fill="none" stroke="#e8302a" stroke-width="1.7"/>
<rect x="253.80" y="335.10" width="7.60" height="7.60" fill="none" stroke="#e8302a" stroke-width="1.7"/>
<circle cx="182.40" cy="408.30" r="3.40" fill="#000"/>
<circle cx="207.50" cy="402.50" r="3.40" fill="#000"/>
<circle cx="232.60" cy="396.00" r="3.40" fill="#000"/>
<circle cx="257.60" cy="391.00" r="3.40" fill="#000"/>
<rect x="178.60" y="400.70" width="7.60" height="7.60" fill="none" stroke="#ecec48" stroke-width="1.7"/>
<rect x="203.70" y="394.20" width="7.60" height="7.60" fill="none" stroke="#ecec48" stroke-width="1.7"/>
<rect x="228.80" y="387.00" width="7.60" height="7.60" fill="none" stroke="#ecec48" stroke-width="1.7"/>
<rect x="253.80" y="380.50" width="7.60" height="7.60" fill="none" stroke="#ecec48" stroke-width="1.7"/>
<polygon points="182.40,396.02 186.20,402.86 178.60,402.86" fill="none" stroke="#3cb44a" stroke-width="1.7"/>
<polygon points="207.50,381.92 211.30,388.76 203.70,388.76" fill="none" stroke="#3cb44a" stroke-width="1.7"/>
<polygon points="232.60,322.92 236.40,329.76 228.80,329.76" fill="none" stroke="#3cb44a" stroke-width="1.7"/>
<polygon points="257.60,286.62 261.40,293.46 253.80,293.46" fill="none" stroke="#3cb44a" stroke-width="1.7"/>
<polygon points="157.30,411.75 160.87,404.61 153.73,404.61" fill="#000"/>
<polygon points="157.30,409.38 158.88,406.23 155.73,406.23" fill="#8fa898"/>
<line x1="153.70000000000002" y1="403.5" x2="160.9" y2="403.5" stroke="#ecec48" stroke-width="1.3"/>
<line x1="154.3" y1="412.1" x2="160.3" y2="412.1" stroke="#f08a30" stroke-width="1.0"/>
<polygon points="182.40,412.75 185.97,405.61 178.83,405.61" fill="#000"/>
<polygon points="182.40,410.25 183.87,407.31 180.93,407.31" fill="#d8dcd0"/>
<polygon points="207.50,407.85 211.07,400.71 203.93,400.71" fill="#000"/>
<polygon points="207.50,405.35 208.97,402.41 206.03,402.41" fill="#d8dcd0"/>
<polygon points="232.60,400.85 236.17,393.71 229.03,393.71" fill="#000"/>
<polygon points="232.60,398.35 234.07,395.41 231.13,395.41" fill="#d8dcd0"/>
<polygon points="257.60,396.55 261.17,389.41 254.03,389.41" fill="#000"/>
<polygon points="257.60,394.05 259.07,391.11 256.13,391.11" fill="#d8dcd0"/>
<line x1="89.0" y1="285.6" x2="107.0" y2="285.6" stroke="#000" stroke-width="2.4"/>
<rect x="94.50" y="282.10" width="7.00" height="7.00" fill="#000" stroke="none"/>
<text x="109.4" y="289.0" font-size="10.1" font-weight="bold" text-anchor="start">Immature</text>
<line x1="89.0" y1="299.32000000000005" x2="107.0" y2="299.32000000000005" stroke="#f08a30" stroke-width="2.4"/>
<polygon points="98.00,294.95 101.67,302.30 94.33,302.30" fill="#f08a30"/>
<text x="109.4" y="302.72" font-size="10.1" font-weight="bold" text-anchor="start">LPS</text>
<line x1="89.0" y1="313.04" x2="107.0" y2="313.04" stroke="#3b55b0" stroke-width="2.4" stroke-dasharray="5.5 3"/>
<polygon points="98.00,317.42 101.67,310.06 94.33,310.06" fill="#3b55b0"/>
<text x="109.4" y="316.44" font-size="10.1" font-weight="bold" text-anchor="start">Polyl:C</text>
<line x1="89.0" y1="326.76000000000005" x2="107.0" y2="326.76000000000005" stroke="#e8302a" stroke-width="2.4"/>
<rect x="94.50" y="323.26" width="7.00" height="7.00" fill="none" stroke="#e8302a" stroke-width="1.7"/>
<text x="109.4" y="330.16" font-size="10.1" font-weight="bold" text-anchor="start">LLPS/polyl:C</text>
<line x1="89.0" y1="340.48" x2="107.0" y2="340.48" stroke="#000" stroke-width="2.4"/>
<circle cx="98.00" cy="340.48" r="3.50" fill="#000"/>
<text x="109.4" y="343.88" font-size="10.1" font-weight="bold" text-anchor="start">R848</text>
<line x1="89.0" y1="354.20000000000005" x2="107.0" y2="354.20000000000005" stroke="#ecec48" stroke-width="2.4" stroke-dasharray="2.2 2.2"/>
<rect x="94.50" y="350.70" width="7.00" height="7.00" fill="none" stroke="#ecec48" stroke-width="1.7"/>
<text x="109.4" y="357.6" font-size="10.1" font-weight="bold" text-anchor="start">R848/LPD</text>
<line x1="89.0" y1="367.92" x2="107.0" y2="367.92" stroke="#3cb44a" stroke-width="2.4" stroke-dasharray="5 2 2 2"/>
<polygon points="98.00,364.07 101.50,370.37 94.50,370.37" fill="none" stroke="#3cb44a" stroke-width="1.7"/>
<text x="109.4" y="371.32" font-size="10.1" font-weight="bold" text-anchor="start">R848/polyl:C</text>
<line x1="89.0" y1="381.64000000000004" x2="107.0" y2="381.64000000000004" stroke="#000" stroke-width="2.4"/>
<polygon points="98.00,386.02 101.67,378.67 94.33,378.67" fill="#000"/>
<polygon points="98.00,383.39 99.47,380.45 96.53,380.45" fill="#c8ccc0"/>
<text x="109.4" y="385.04" font-size="10.1" font-weight="bold" text-anchor="start">Mimic</text>
<text x="146.0" y="267.8" font-size="11.8" font-weight="bold" text-anchor="middle" stroke="#000" stroke-width="0.25">IL-12p70</text>
<text x="45.5" y="265.3" font-size="17.9" text-anchor="start" stroke="#000" stroke-width="0.55">C</text>
<text x="35.4" y="347.9" font-size="11.6" font-weight="bold" text-anchor="middle" transform="rotate(-90 35.4 347.9)">(pg/mL) (log<tspan dy="-4" font-size="7">2</tspan><tspan dy="4">)</tspan></text>
<line x1="312.2" y1="289.8" x2="312.2" y2="369.1" stroke="#000" stroke-width="1.8"/>
<line x1="308.0" y1="369.1" x2="315.6" y2="369.1" stroke="#000" stroke-width="1.8"/>
<line x1="312.2" y1="378.4" x2="312.2" y2="416.2" stroke="#000" stroke-width="1.8"/>
<line x1="308.0" y1="378.4" x2="315.6" y2="378.4" stroke="#000" stroke-width="1.8"/>
<line x1="308.0" y1="327.0" x2="312.2" y2="327.0" stroke="#000" stroke-width="1.6"/>
<text x="306.4" y="330.4" font-size="9.6" text-anchor="end" stroke="#000" stroke-width="0.4">1100</text>
<text x="306.4" y="372.5" font-size="9.6" text-anchor="end" stroke="#000" stroke-width="0.4">100</text>
<text x="306.4" y="381.79999999999995" font-size="9.6" text-anchor="end" stroke="#000" stroke-width="0.4">100</text>
<line x1="308.0" y1="397.5" x2="312.2" y2="397.5" stroke="#000" stroke-width="1.6"/>
<text x="306.4" y="400.9" font-size="9.6" text-anchor="end" stroke="#000" stroke-width="0.4">50</text>
<line x1="308.0" y1="416.2" x2="312.2" y2="416.2" stroke="#000" stroke-width="1.6"/>
<text x="306.4" y="419.59999999999997" font-size="9.6" text-anchor="end" stroke="#000" stroke-width="0.4">0</text>
<line x1="311.3" y1="416.2" x2="361.8" y2="416.2" stroke="#000" stroke-width="1.8"/>
<line x1="367.4" y1="416.2" x2="501.0" y2="416.2" stroke="#000" stroke-width="1.8"/>
<line x1="367.4" y1="412.8" x2="367.4" y2="419.59999999999997" stroke="#000" stroke-width="1.8"/>
<line x1="324.5" y1="416.2" x2="324.5" y2="420.59999999999997" stroke="#000" stroke-width="1.5"/>
<line x1="341.6" y1="416.2" x2="341.6" y2="420.59999999999997" stroke="#000" stroke-width="1.5"/>
<line x1="358.8" y1="416.2" x2="358.8" y2="420.59999999999997" stroke="#000" stroke-width="1.5"/>
<line x1="392.3" y1="416.2" x2="392.3" y2="420.59999999999997" stroke="#000" stroke-width="1.5"/>
<line x1="416.0" y1="416.2" x2="416.0" y2="420.59999999999997" stroke="#000" stroke-width="1.5"/>
<line x1="440.0" y1="416.2" x2="440.0" y2="420.59999999999997" stroke="#000" stroke-width="1.5"/>
<line x1="464.1" y1="416.2" x2="464.1" y2="420.59999999999997" stroke="#000" stroke-width="1.5"/>
<line x1="488.0" y1="416.2" x2="488.0" y2="420.59999999999997" stroke="#000" stroke-width="1.5"/>
<text x="328.9" y="428.3" font-size="10.0" font-weight="bold" text-anchor="end" transform="rotate(-45 328.9 428.3)">30'</text>
<text x="346.0" y="428.3" font-size="10.0" font-weight="bold" text-anchor="end" transform="rotate(-45 346.0 428.3)">90'</text>
<text x="363.2" y="428.3" font-size="10.0" font-weight="bold" text-anchor="end" transform="rotate(-45 363.2 428.3)">3 h</text>
<text x="396.7" y="428.3" font-size="10.0" font-weight="bold" text-anchor="end" transform="rotate(-45 396.7 428.3)">4 h</text>
<text x="420.4" y="428.3" font-size="10.0" font-weight="bold" text-anchor="end" transform="rotate(-45 420.4 428.3)">5 h</text>
<text x="444.4" y="428.3" font-size="10.0" font-weight="bold" text-anchor="end" transform="rotate(-45 444.4 428.3)">6 h</text>
<text x="468.5" y="428.3" font-size="10.0" font-weight="bold" text-anchor="end" transform="rotate(-45 468.5 428.3)">9 h</text>
<text x="492.4" y="428.3" font-size="10.0" font-weight="bold" text-anchor="end" transform="rotate(-45 492.4 428.3)">24 h</text>
<clipPath id="clipD"><rect x="312.2" y="280" width="49.60000000000002" height="89.10000000000002"/><rect x="312.2" y="378.4" width="49.60000000000002" height="41.60000000000002"/><rect x="367.4" y="280" width="137.60000000000002" height="89.10000000000002"/><rect x="367.4" y="378.4" width="137.60000000000002" height="41.60000000000002"/></clipPath>
<g clip-path="url(#clipD)">
<polyline points="316.00,413.50 324.55,413.50 333.10,413.50 341.65,413.50 350.20,413.50 358.75,413.50 392.30,401.00 416.00,367.80 440.00,367.80 464.10,359.00 488.00,357.80" fill="none" stroke="#e8302a" stroke-width="1.9" stroke-linejoin="round"/>
<polyline points="316.00,413.00 324.55,413.00 333.10,413.00 341.65,413.00 350.20,413.00 358.75,413.00 392.30,396.20 416.00,367.80 440.00,362.00 464.10,328.00 488.00,306.60" fill="none" stroke="#ecec48" stroke-width="2.0" stroke-dasharray="2.2 2.2" stroke-linejoin="round"/>
<polyline points="316.00,413.80 324.55,413.80 333.10,413.80 341.65,413.80 350.20,413.80 358.75,413.80 392.30,413.80 416.00,413.80 440.00,411.00 464.10,407.70 488.00,397.60" fill="none" stroke="#3b55b0" stroke-width="1.3" stroke-linejoin="round"/>
<polyline points="316.00,413.60 324.55,413.60 333.10,413.60 341.65,413.60 350.20,413.60 358.75,413.60 392.30,413.30 416.00,413.00 440.00,408.60 464.10,387.50 488.00,359.20" fill="none" stroke="#3cb44a" stroke-width="1.9" stroke-dasharray="2.2 2.2" stroke-linejoin="round"/>
<polyline points="316.00,414.00 324.55,414.00 333.10,414.00 341.65,414.00 350.20,414.00 358.75,414.00 392.30,414.00 416.00,414.00 440.00,405.30 464.10,395.60 488.00,366.00" fill="none" stroke="#000" stroke-width="1.9" stroke-linejoin="round"/>
<polyline points="316.00,407.30 324.55,407.30 333.10,407.30 341.65,407.30 350.20,407.30 358.75,402.50 392.30,392.20 416.00,366.50 440.00,365.00 464.10,355.00 488.00,357.00" fill="none" stroke="#f08a30" stroke-width="1.9" stroke-linejoin="round"/>
<polyline points="316.00,413.00 324.55,413.00 333.10,413.00 341.65,413.00 350.20,408.50 358.75,408.50 392.30,408.50 416.00,408.50 440.00,406.00 464.10,404.30 488.00,392.00" fill="none" stroke="#000" stroke-width="1.9" stroke-dasharray="4.5 2.5" stroke-linejoin="round"/>
</g>
<line x1="464.1" y1="321.5" x2="464.1" y2="334.5" stroke="#ecec48" stroke-width="1.2"/>
<line x1="461.3" y1="321.5" x2="466.90000000000003" y2="321.5" stroke="#ecec48" stroke-width="1.3"/>
<line x1="461.3" y1="334.5" x2="466.90000000000003" y2="334.5" stroke="#ecec48" stroke-width="1.3"/>
<line x1="488.0" y1="299.8" x2="488.0" y2="313.4" stroke="#ecec48" stroke-width="1.2"/>
<line x1="485.2" y1="299.8" x2="490.8" y2="299.8" stroke="#ecec48" stroke-width="1.3"/>
<line x1="485.2" y1="313.4" x2="490.8" y2="313.4" stroke="#ecec48" stroke-width="1.3"/>
<line x1="416.0" y1="364.0" x2="416.0" y2="371.0" stroke="#ecec48" stroke-width="1.2"/>
<line x1="413.2" y1="364.0" x2="418.8" y2="364.0" stroke="#ecec48" stroke-width="1.3"/>
<line x1="413.2" y1="371.0" x2="418.8" y2="371.0" stroke="#ecec48" stroke-width="1.3"/>
<line x1="440.0" y1="358.5" x2="440.0" y2="365.5" stroke="#ecec48" stroke-width="1.2"/>
<line x1="437.2" y1="358.5" x2="442.8" y2="358.5" stroke="#ecec48" stroke-width="1.3"/>
<line x1="437.2" y1="365.5" x2="442.8" y2="365.5" stroke="#ecec48" stroke-width="1.3"/>
<rect x="389.00" y="397.70" width="6.60" height="6.60" fill="none" stroke="#e8302a" stroke-width="1.7"/>
<rect x="412.70" y="364.50" width="6.60" height="6.60" fill="none" stroke="#e8302a" stroke-width="1.7"/>
<rect x="436.70" y="364.50" width="6.60" height="6.60" fill="none" stroke="#e8302a" stroke-width="1.7"/>
<rect x="460.80" y="355.70" width="6.60" height="6.60" fill="none" stroke="#e8302a" stroke-width="1.7"/>
<rect x="484.70" y="354.50" width="6.60" height="6.60" fill="none" stroke="#e8302a" stroke-width="1.7"/>
<rect x="389.00" y="392.90" width="6.60" height="6.60" fill="none" stroke="#ecec48" stroke-width="1.7"/>
<rect x="412.70" y="364.50" width="6.60" height="6.60" fill="none" stroke="#ecec48" stroke-width="1.7"/>
<rect x="436.70" y="358.70" width="6.60" height="6.60" fill="none" stroke="#ecec48" stroke-width="1.7"/>
<rect x="460.80" y="324.70" width="6.60" height="6.60" fill="none" stroke="#ecec48" stroke-width="1.7"/>
<rect x="484.70" y="303.30" width="6.60" height="6.60" fill="none" stroke="#ecec48" stroke-width="1.7"/>
<rect x="313.80" y="411.60" width="4.40" height="4.40" fill="#3b55b0" stroke="none"/>
<rect x="322.35" y="411.60" width="4.40" height="4.40" fill="#3b55b0" stroke="none"/>
<rect x="330.90" y="411.60" width="4.40" height="4.40" fill="#3b55b0" stroke="none"/>
<rect x="339.45" y="411.60" width="4.40" height="4.40" fill="#3b55b0" stroke="none"/>
<rect x="348.00" y="411.60" width="4.40" height="4.40" fill="#3b55b0" stroke="none"/>
<rect x="356.55" y="411.60" width="4.40" height="4.40" fill="#3b55b0" stroke="none"/>
<rect x="389.10" y="410.60" width="6.40" height="6.40" fill="#3b55b0" stroke="none"/>
<rect x="412.80" y="410.60" width="6.40" height="6.40" fill="#3b55b0" stroke="none"/>
<rect x="436.80" y="407.80" width="6.40" height="6.40" fill="#3b55b0" stroke="none"/>
<rect x="460.90" y="404.50" width="6.40" height="6.40" fill="#3b55b0" stroke="none"/>
<rect x="484.80" y="394.40" width="6.40" height="6.40" fill="#3b55b0" stroke="none"/>
<polygon points="316.00,410.85 318.31,415.47 313.69,415.47" fill="#3cb44a"/>
<polygon points="324.55,410.85 326.86,415.47 322.24,415.47" fill="#3cb44a"/>
<polygon points="333.10,410.85 335.41,415.47 330.79,415.47" fill="#3cb44a"/>
<polygon points="341.65,410.85 343.96,415.47 339.34,415.47" fill="#3cb44a"/>
<polygon points="350.20,410.85 352.51,415.47 347.89,415.47" fill="#3cb44a"/>
<polygon points="358.75,410.85 361.06,415.47 356.44,415.47" fill="#3cb44a"/>
<polygon points="392.30,409.30 395.66,416.02 388.94,416.02" fill="#3cb44a"/>
<polygon points="416.00,409.00 419.36,415.72 412.64,415.72" fill="#3cb44a"/>
<polygon points="440.00,404.60 443.36,411.32 436.64,411.32" fill="#3cb44a"/>
<polygon points="464.10,383.50 467.46,390.22 460.74,390.22" fill="#3cb44a"/>
<polygon points="488.00,355.20 491.36,361.92 484.64,361.92" fill="#3cb44a"/>
<circle cx="316.00" cy="414.00" r="2.20" fill="#000"/>
<circle cx="324.55" cy="414.00" r="2.20" fill="#000"/>
<circle cx="333.10" cy="414.00" r="2.20" fill="#000"/>
<circle cx="341.65" cy="414.00" r="2.20" fill="#000"/>
<circle cx="350.20" cy="414.00" r="2.20" fill="#000"/>
<circle cx="358.75" cy="414.00" r="2.20" fill="#000"/>
<circle cx="392.30" cy="414.00" r="3.20" fill="#000"/>
<circle cx="416.00" cy="414.00" r="3.20" fill="#000"/>
<circle cx="440.00" cy="405.30" r="3.20" fill="#000"/>
<circle cx="464.10" cy="395.60" r="3.20" fill="#000"/>
<circle cx="488.00" cy="366.00" r="3.20" fill="#000"/>
<polygon points="316.00,403.30 319.36,410.02 312.64,410.02" fill="#f08a30"/>
<polygon points="324.55,403.30 327.91,410.02 321.19,410.02" fill="#f08a30"/>
<polygon points="333.10,403.30 336.46,410.02 329.74,410.02" fill="#f08a30"/>
<polygon points="341.65,403.30 345.01,410.02 338.29,410.02" fill="#f08a30"/>
<polygon points="350.20,403.30 353.56,410.02 346.84,410.02" fill="#f08a30"/>
<polygon points="358.75,398.50 362.11,405.22 355.39,405.22" fill="#f08a30"/>
<polygon points="392.30,388.20 395.66,394.92 388.94,394.92" fill="#f08a30"/>
<polygon points="416.00,362.50 419.36,369.22 412.64,369.22" fill="#f08a30"/>
<polygon points="440.00,361.00 443.36,367.72 436.64,367.72" fill="#f08a30"/>
<polygon points="464.10,351.00 467.46,357.72 460.74,357.72" fill="#f08a30"/>
<polygon points="488.00,353.00 491.36,359.72 484.64,359.72" fill="#f08a30"/>
<polygon points="350.20,412.02 353.40,406.26 347.00,406.26" fill="#fff" stroke="#000" stroke-width="1.7"/>
<polygon points="358.75,412.02 361.95,406.26 355.55,406.26" fill="#fff" stroke="#000" stroke-width="1.7"/>
<polygon points="392.30,412.02 395.50,406.26 389.10,406.26" fill="#fff" stroke="#000" stroke-width="1.7"/>
<polygon points="416.00,412.02 419.20,406.26 412.80,406.26" fill="#fff" stroke="#000" stroke-width="1.7"/>
<polygon points="440.00,409.52 443.20,403.76 436.80,403.76" fill="#fff" stroke="#000" stroke-width="1.7"/>
<polygon points="464.10,407.82 467.30,402.06 460.90,402.06" fill="#fff" stroke="#000" stroke-width="1.7"/>
<polygon points="488.00,395.52 491.20,389.76 484.80,389.76" fill="#fff" stroke="#000" stroke-width="1.7"/>
<line x1="312.7" y1="413.4" x2="361.8" y2="413.4" stroke="#000" stroke-width="2.6"/>
<line x1="312.7" y1="417.3" x2="361.8" y2="417.3" stroke="#80c070" stroke-width="1.0"/>
<rect x="315.00" y="412.20" width="2.00" height="2.00" fill="#2f7478" stroke="none"/>
<rect x="323.55" y="412.20" width="2.00" height="2.00" fill="#2f7478" stroke="none"/>
<rect x="332.10" y="412.20" width="2.00" height="2.00" fill="#2f7478" stroke="none"/>
<rect x="340.65" y="412.20" width="2.00" height="2.00" fill="#2f7478" stroke="none"/>
<rect x="349.20" y="412.20" width="2.00" height="2.00" fill="#2f7478" stroke="none"/>
<rect x="357.75" y="412.20" width="2.00" height="2.00" fill="#2f7478" stroke="none"/>
<line x1="320.3" y1="410.0" x2="320.3" y2="415" stroke="#f0f070" stroke-width="1.0"/>
<line x1="319.1" y1="410.0" x2="321.5" y2="410.0" stroke="#f0f070" stroke-width="0.9"/>
<line x1="328.85" y1="410.0" x2="328.85" y2="415" stroke="#f0f070" stroke-width="1.0"/>
<line x1="327.65000000000003" y1="410.0" x2="330.05" y2="410.0" stroke="#f0f070" stroke-width="0.9"/>
<line x1="337.40000000000003" y1="410.0" x2="337.40000000000003" y2="415" stroke="#f0f070" stroke-width="1.0"/>
<line x1="336.20000000000005" y1="410.0" x2="338.6" y2="410.0" stroke="#f0f070" stroke-width="0.9"/>
<line x1="345.95" y1="410.0" x2="345.95" y2="415" stroke="#f0f070" stroke-width="1.0"/>
<line x1="344.75" y1="410.0" x2="347.15" y2="410.0" stroke="#f0f070" stroke-width="0.9"/>
<line x1="354.5" y1="410.0" x2="354.5" y2="415" stroke="#f0f070" stroke-width="1.0"/>
<line x1="353.3" y1="410.0" x2="355.7" y2="410.0" stroke="#f0f070" stroke-width="0.9"/>
<line x1="363.05" y1="410.0" x2="363.05" y2="415" stroke="#f0f070" stroke-width="1.0"/>
<line x1="361.85" y1="410.0" x2="364.25" y2="410.0" stroke="#f0f070" stroke-width="0.9"/>
<rect x="436.80" y="402.10" width="6.40" height="6.40" fill="#000" stroke="none"/>
<text x="386.2" y="273.3" font-size="11.8" font-weight="bold" text-anchor="middle" stroke="#000" stroke-width="0.25">IL-10</text>
<text x="275.2" y="264.7" font-size="17" font-weight="bold" text-anchor="start">D</text>
<text x="280.2" y="351.8" font-size="11.6" font-weight="bold" text-anchor="middle" transform="rotate(-90 280.2 351.8)">(pg/mL)</text>
<rect x="1" y="1" width="1" height="460" fill="#c8c8c8"/>
<rect x="1" y="1" width="518" height="1" fill="#cccccc"/>
<rect x="518" y="0" width="1" height="462" fill="#8a8a8a"/>
<rect x="519" y="0" width="1" height="462" fill="#a8a8a8"/>
<rect x="0" y="460" width="520" height="2" fill="#888888"/>
<rect x="0" y="0" width="1" height="462" fill="#747474"/>
<rect x="0" y="0" width="520" height="1" fill="#727272"/>
</svg>
</body></html>
